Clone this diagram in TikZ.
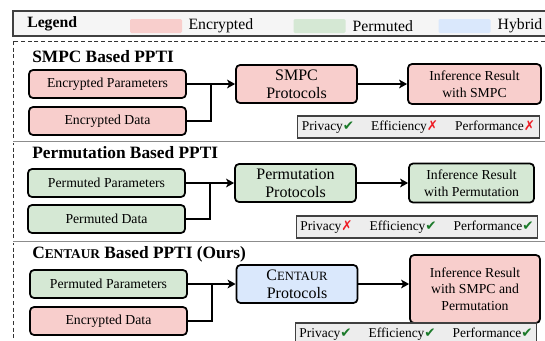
\documentclass[tikz,border=0pt]{standalone}
\usepackage{fontspec}
\setmainfont{Liberation Serif}
\newfontfamily\symfont{DejaVu Sans}
\usetikzlibrary{arrows.meta,positioning}

\definecolor{encfill}{HTML}{F8CECC}
\definecolor{permfill}{HTML}{D5E8D4}
\definecolor{hybfill}{HTML}{DAE8FC}
\definecolor{okgreen}{HTML}{1B7A2A}
\definecolor{nored}{HTML}{EE1C25}

\newcommand{\okmark}{{\symfont\color{okgreen}✔}}
\newcommand{\nomark}{{\symfont\color{nored}✗}}
\newcommand{\centaur}[1]{C{\fontsize{#1}{#1}\selectfont ENTAUR}}

\begin{document}
\begin{tikzpicture}[x=0.75pt, y=-0.75pt,
    every node/.style={font=\fontsize{10.3}{12}\selectfont},
    blockbox/.style={draw=black, line width=1.3pt, rounded corners=3pt, align=center, inner sep=1pt},
    inputbox/.style={blockbox, minimum width=117.75pt, minimum height=21pt},
    protobox/.style={blockbox, minimum width=90.75pt, minimum height=28.5pt, font=\fontsize{12}{13.5}\selectfont},
    resultbox/.style={blockbox, font=\fontsize{10.3}{12.5}\selectfont},
    enc/.style={fill=encfill}, perm/.style={fill=permfill}, hyb/.style={fill=hybfill},
    ratebox/.style={draw=black!75, line width=0.8pt, fill=black!7, minimum height=16.5pt, text width=175pt, inner xsep=3pt, inner ysep=0pt, font=\fontsize{10.1}{12}\selectfont},
    rowtitle/.style={anchor=west, inner sep=0pt, font=\fontsize{13}{15}\selectfont\bfseries},
    swatch/.style={minimum width=39pt, minimum height=10.5pt, inner sep=0pt, rounded corners=1pt},
    legtext/.style={inner sep=0pt, font=\fontsize{11.8}{13}\selectfont},
    feed/.style={line width=1.8pt},
    flow/.style={feed, -{Stealth[length=6pt, width=6.5pt, inset=1.5pt]}},
]
    \useasboundingbox (0,0) rectangle (545,340);

    % legend and frames
    \draw[black!80, dash pattern=on 3pt off 2pt, line width=0.6pt] (13,41) rectangle (560,360);
    \draw[black!45, double, double distance=0.5pt, line width=0.5pt] (13,142) -- (560,142);
    \draw[black!45, double, double distance=0.5pt, line width=0.5pt] (13,242) -- (560,242);
    \draw[black!75, line width=0.8pt, fill=black!4] (13,11) rectangle (560,36);
    \node[legtext, anchor=west, font=\fontsize{11.8}{13}\selectfont\bfseries] (leg) at (27,24) {Legend};
    \node[swatch, fill=encfill] (sw1) at (156,26) {};
    \node[legtext, right=4.5pt of sw1] (lenc) {Encrypted};
    \node[swatch, fill=permfill] (sw2) at (319.5,26) {};
    \node[legtext, right=5pt of sw2] (lperm) {Permuted};
    \node[swatch, fill=hybfill] (sw3) at (464.5,26) {};
    \node[legtext, right=5pt of sw3] (lhyb) {Hybrid};

    % SMPC row
    \node[rowtitle] (t1) at (32,57) {SMPC Based PPTI};
    \node[inputbox, enc] (par1) at (107.5,84) {Encrypted Parameters};
    \node[inputbox, enc] (dat1) at (107.5,121) {Encrypted Data};
    \node[protobox, enc] (pro1) at (296.5,84) {SMPC\\Protocols};
    \node[resultbox, enc, minimum width=99.75pt, minimum height=30pt] (res1) at (474.5,84) {Inference Result\\with SMPC};
    \node[ratebox] (rat1) at (418.5,127) {Privacy\okmark\hfill Efficiency\nomark\hfill Performance\nomark};
    \coordinate (j1) at (211,84);
    \draw[feed] (dat1.east) -| (j1);
    \draw[flow] (par1) -- (pro1);
    \draw[flow] (pro1) -- (res1);

    % permutation row
    \node[rowtitle] (t2) at (32,153) {Permutation Based PPTI};
    \node[inputbox, perm] (par2) at (106.5,183) {Permuted Parameters};
    \node[inputbox, perm] (dat2) at (106.5,219) {Permuted Data};
    \node[protobox, perm] (pro2) at (295.5,183) {Permutation\\Protocols};
    \node[resultbox, perm, minimum width=93.75pt, minimum height=29.25pt] (res2) at (471.5,183) {Inference Result\\with Permutation};
    \node[ratebox] (rat2) at (417,227) {Privacy\nomark\hfill Efficiency\okmark\hfill Performance\okmark};
    \coordinate (j2) at (210,183);
    \draw[feed] (dat2.east) -| (j2);
    \draw[flow] (par2) -- (pro2);
    \draw[flow] (pro2) -- (res2);

    % our row
    \node[rowtitle] (t3) at (32,254) {\centaur{10} Based PPTI (Ours)};
    \node[inputbox, perm] (par3) at (108.5,284) {Permuted Parameters};
    \node[inputbox, enc] (dat3) at (108.5,321) {Encrypted Data};
    \node[protobox, hyb] (pro3) at (297,284) {\centaur{9.5}\\Protocols};
    \node[resultbox, enc, minimum width=97.5pt, minimum height=51pt] (res3) at (475,289) {Inference Result\\with SMPC and\\Permutation};
    \node[ratebox] (rat3) at (416,334) {Privacy\okmark\hfill Efficiency\okmark\hfill Performance\okmark};
    \coordinate (j3) at (212,284);
    \draw[feed] (dat3.east) -| (j3);
    \draw[flow] (par3) -- (pro3);
    \draw[flow] (pro3.east) -- (pro3.east -| res3.west);
\end{tikzpicture}
\end{document}
